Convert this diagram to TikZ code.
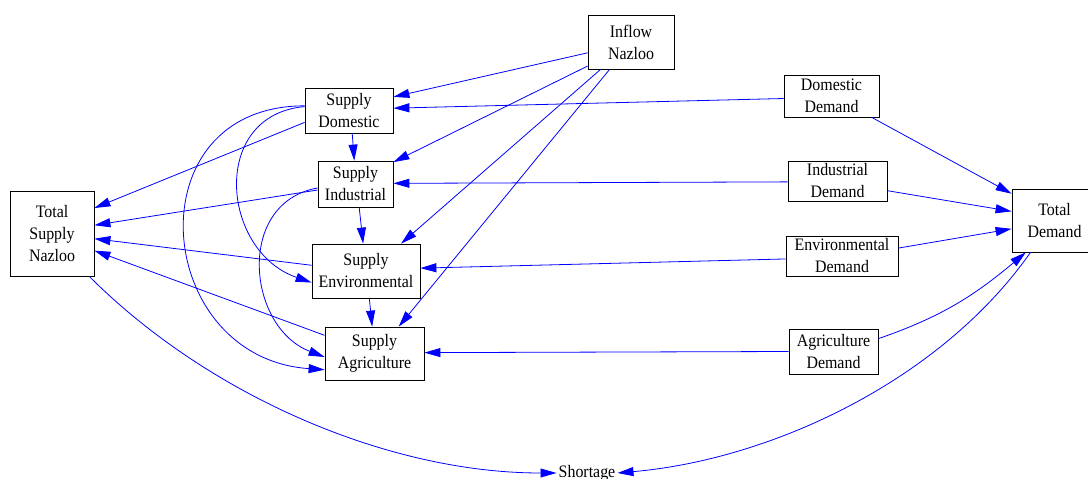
\documentclass[tikz,border=0pt]{standalone}
\usepackage{fontspec}
\setmainfont{Liberation Serif}[FakeStretch=0.91]
\usetikzlibrary{arrows.meta}

\begin{document}
\begin{tikzpicture}[x=1pt,y=-1pt,
    box/.style={draw,line width=0.8pt,align=center,inner sep=1pt,font=\fontsize{17.5}{22}\selectfont},
    flow/.style={draw=blue,line width=0.8pt,-{Triangle[length=16pt,width=9pt]}}]
    \useasboundingbox (0,0) rectangle (1088,479);
    \foreach \name/\x/\y/\w/\h/\text in {inflow/631/42/86/54/{Inflow\\Nazloo},
        supdom/349/110.5/88/45/{Supply\\Domestic}, supind/355.5/184/75/46/{Supply\\Industrial},
        supenv/366/271/108/54/{Supply\\Environmental}, supagr/374.5/353.5/99/53/{Supply\\Agriculture},
        totsup/52/233.5/84/85/{Total\\Supply\\Nazloo},
        demdom/831.5/96/95/42/{Domestic\\Demand}, demind/837.5/181/99/40/{Industrial\\Demand},
        demenv/842/256/112/40/{Environmental\\Demand}, demagr/833.5/351.5/89/45/{Agriculture\\Demand},
        totdem/1054.5/220.5/85/63/{Total\\Demand}}
    {
        \node[box,minimum width=\w,minimum height=\h] (\name) at (\x,\y) {\text};
    }
    \node[font=\fontsize{17.5}{22}\selectfont,inner sep=2pt] (shortage) at (587,473) {Shortage};
    % straight flows
    \foreach \a/\b in {inflow.194/supdom.17, inflow.209/supind.30, inflow.222/supenv.38.5,
        inflow.232/supagr.48.4, demdom.183.6/supdom.3.3, demind.181.2/supind.1.5,
        demenv.183/supenv.3.2, demagr.180.6/supagr.1.7, demdom.-28/totdem.148,
        demind.-11.4/totdem.168.7, demenv.8.1/totdem.191.3, supdom.-82.4/supind.93.7,
        supind.-81.3/supenv.96.3, supenv.-83.7/supagr.95.4, supdom.195.9/totsup.31.3,
        supind.189.1/totsup.11.4, supenv.174.7/totsup.-7.5, supagr.160.5/totsup.-22.6}
    {
        \draw[flow] (\a) -- (\b);
    }
    % curved flows
    \draw[flow] (supdom.175.5) to[out=185,in=161,looseness=1.39] (supenv.192.5);
    \draw[flow] (supdom.174) to[out=180,in=176,looseness=1.67] (supagr.198.4);
    \draw[flow] (supind.186.3) to[out=190,in=159,looseness=1.26] (supagr.184);
    \draw[flow] (demagr.16) to[out=19,in=220] (totdem.228);
    \draw[flow] (totdem.233.3) to[out=235,in=5,looseness=0.85] (shortage.east);
    \draw[flow] (totsup.-49) to[out=-45,in=180,looseness=0.85] (shortage.west);
\end{tikzpicture}
\end{document}
